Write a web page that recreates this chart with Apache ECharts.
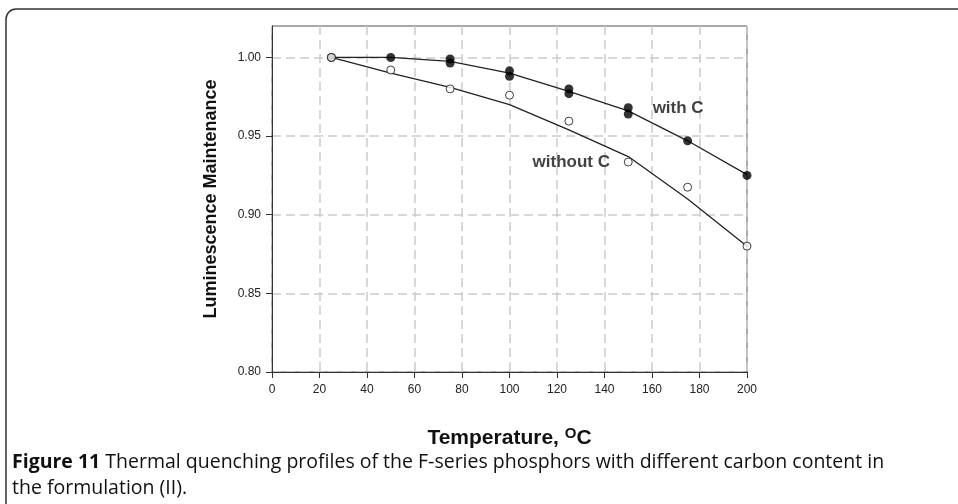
<!DOCTYPE html>
<html>
<head>
<meta charset="utf-8">
<script src="https://cdn.jsdelivr.net/npm/echarts@6/dist/echarts.min.js"></script>
<style>
html,body{margin:0;padding:0;background:#fff;}
#chart{width:958px;height:504px;}
</style>
</head>
<body>
<div id="chart"></div>
<script>
// ---- data ----
var xTicks = [0, 20, 40, 60, 80, 100, 120, 140, 160, 180, 200];
var yTicks = [0.80, 0.85, 0.90, 0.95, 1.00];
var fitTemps = [25, 50, 75, 100, 125, 150, 175, 200];
var fitWithC = [1.000, 1.000, 0.9975, 0.990, 0.9785, 0.966, 0.947, 0.9255];
var fitWithoutC = [1.000, 0.990, 0.981, 0.970, 0.954, 0.937, 0.910, 0.880];
var withCTemps = [25, 50, 75, 75, 100, 100, 125, 125, 150, 150, 175, 200];
var withCValues = [1.000, 1.000, 0.999, 0.9965, 0.9915, 0.988, 0.980, 0.977, 0.968, 0.964, 0.947, 0.925];
var withoutCTemps = [25, 50, 75, 100, 125, 150, 175, 200];
var withoutCValues = [1.000, 0.992, 0.980, 0.976, 0.9595, 0.9335, 0.9175, 0.880];
var annotTexts = ['with C', 'without C'];
var annotX = [171, 126];
var annotY = [0.9675, 0.9335];
var captionBold = 'Figure 11';
var captionLine1 = ' Thermal quenching profiles of the F-series phosphors with different carbon content in';
var captionLine2 = 'the formulation (II).';

function pairs(xs, ys) { return xs.map(function (x, i) { return [x, ys[i]]; }); }

var chart = echarts.init(document.getElementById('chart'), null, {renderer: 'canvas'});
var gridStyle = {show: true, lineStyle: {color: '#cbcbcb', width: 1.5, type: [9, 5]}};
var option = {
  animation: false,
  backgroundColor: '#ffffff',
  grid: {left: 272, top: 26, right: 211, bottom: 132, show: true, borderColor: '#555', borderWidth: 1, backgroundColor: 'transparent'},
  xAxis: {
    type: 'value', min: 0, max: 200, interval: 20,
    axisLine: {show: true, lineStyle: {color: '#333', width: 1}},
    axisTick: {show: true, length: 6, lineStyle: {color: '#333'}},
    axisLabel: {color: '#222', fontFamily: 'Liberation Sans', fontSize: 12, margin: 12},
    splitLine: gridStyle,
    name: 'Temperature, {sup|O}C',
    nameLocation: 'middle', nameGap: 54,
    nameTextStyle: {
      color: '#111', fontFamily: 'Liberation Sans', fontWeight: 'bold', fontSize: 21,
      rich: {sup: {fontFamily: 'Liberation Sans', fontWeight: 'bold', fontSize: 15, color: '#111', padding: [0, 0, 10, 0]}}
    }
  },
  yAxis: {
    type: 'value', min: 0.80, max: 1.02, interval: 0.05,
    axisLine: {show: true, lineStyle: {color: '#333', width: 1}},
    axisTick: {show: true, length: 6, lineStyle: {color: '#333'}, customValues: yTicks},
    axisLabel: {color: '#222', fontFamily: 'Liberation Sans', fontSize: 12, margin: 11, customValues: yTicks,
      formatter: function (v) { return v.toFixed(2); }},
    splitLine: gridStyle,
    name: 'Luminescence Maintenance',
    nameLocation: 'middle', nameGap: 52,
    nameTextStyle: {color: '#111', fontFamily: 'Liberation Sans', fontWeight: 'bold', fontSize: 18}
  },
  series: [
    {type: 'line', data: pairs(fitTemps, fitWithC), showSymbol: false, symbol: 'none',
      lineStyle: {color: '#222', width: 1.3}, z: 2},
    {type: 'line', data: pairs(fitTemps, fitWithoutC), showSymbol: false, symbol: 'none',
      lineStyle: {color: '#222', width: 1.3}, z: 2},
    {type: 'scatter', data: pairs(withCTemps, withCValues), symbol: 'circle', symbolSize: 9,
      itemStyle: {color: '#000', borderColor: '#000', borderWidth: 0}, z: 3},
    {type: 'scatter', data: pairs(withoutCTemps, withoutCValues), symbol: 'circle', symbolSize: 8,
      itemStyle: {color: '#fff', borderColor: '#111', borderWidth: 1}, z: 3},
    {type: 'scatter', symbolSize: 0, silent: true, z: 4,
      data: annotTexts.map(function (t, i) { return {value: [annotX[i], annotY[i]], name: t}; }),
      label: {show: true, position: 'inside', formatter: '{b}', color: '#111', fontFamily: 'Liberation Sans',
        fontWeight: 'bold', fontSize: 17}}
  ],
  graphic: [
    {type: 'rect', shape: {x: 6, y: 9, width: 1100, height: 700, r: 10}, silent: true,
      style: {fill: 'none', stroke: '#333', lineWidth: 1.5}, z: -1},
    {type: 'text', left: 12, top: 452, silent: true,
      style: {text: '{b|' + captionBold + '}{n|' + captionLine1 + '}\n{n|' + captionLine2 + '}',
        rich: {
          b: {fontFamily: 'Open Sans', fontWeight: 'bold', fontSize: 19.5, fill: '#111', lineHeight: 26},
          n: {fontFamily: 'Open Sans', fontSize: 19.5, fill: '#111', lineHeight: 26}
        }}}
  ]
};
chart.setOption(option);
</script>
</body>
</html>
